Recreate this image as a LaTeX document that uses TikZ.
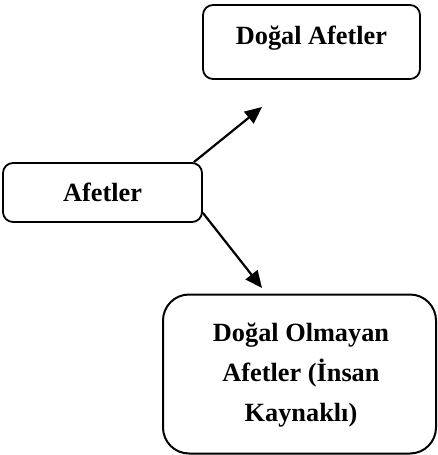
\documentclass[tikz,border=0pt]{standalone}
\usepackage{fontspec}
\setmainfont{Liberation Serif}
\usetikzlibrary{arrows.meta}
\begin{document}
\begin{tikzpicture}[x=1pt,y=-1pt,
  box/.style={draw, line width=1.8pt, rounded corners=10pt, inner sep=0pt},
  lbl/.style={font=\fontsize{26.3}{40}\selectfont\bfseries, inner sep=0pt, anchor=base},
  arr/.style={line width=2.2pt, -{Triangle[length=17pt,width=15pt]}}]
\useasboundingbox (0,0) rectangle (437,455);
% boxes
\node[box, minimum width=217pt, minimum height=74pt] (dogal) at (311.5,42) {};
\node[box, minimum width=199pt, minimum height=59pt] (afet) at (102.5,192.5) {};
\node[box, line width=2pt, rounded corners=26pt, minimum width=273pt, minimum height=159pt] (insan) at (299.5,374) {};
% labels
\node[lbl] (tdogal) at (311.5,44) {Doğal Afetler};
\node[lbl] (tafet) at (102.5,201.7) {Afetler};
\node[lbl] (tins1) at (301,341.7) {Doğal Olmayan};
\node[lbl] (tins2) at (301,381.7) {Afetler (İnsan};
\node[lbl] (tins3) at (301,421) {Kaynaklı)};
% connector ends
\coordinate (t1) at (262,107);
\coordinate (t2) at (262,288);
\draw[arr] ([xshift=-9pt]afet.north east) -- (t1);
\draw[arr] ([yshift=10pt]afet.south east) -- (t2);
\end{tikzpicture}
\end{document}
